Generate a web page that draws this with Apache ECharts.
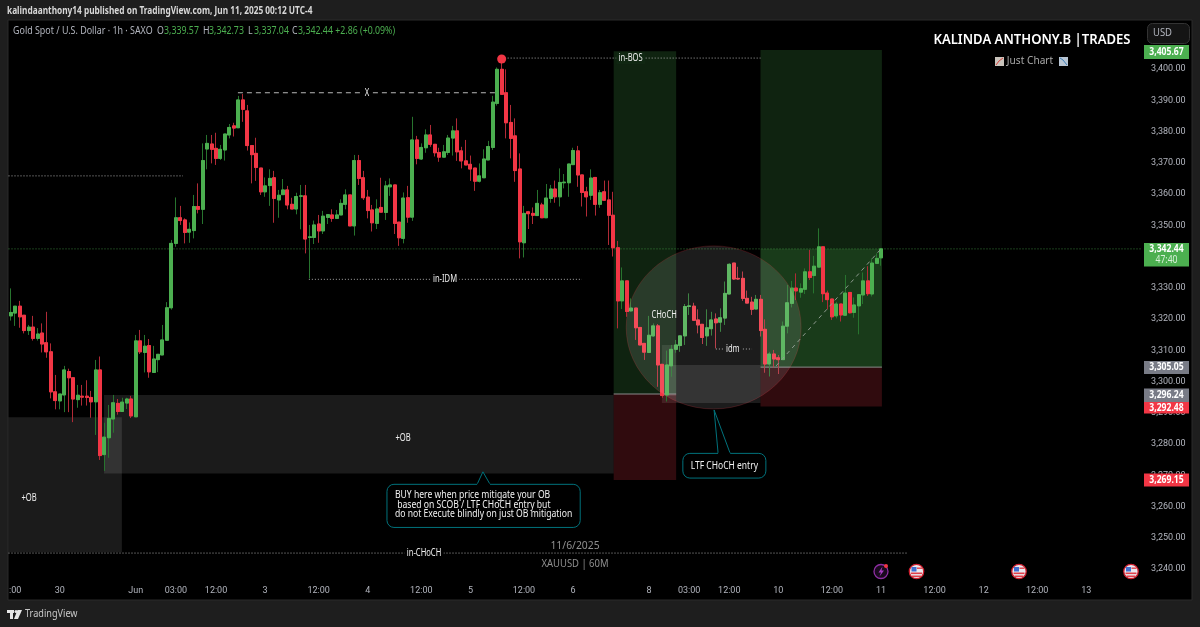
<!DOCTYPE html>
<html><head><meta charset="utf-8">
<style>html,body{margin:0;padding:0;background:#1e1e1e}#c{width:1200px;height:627px}</style>
<script src="https://cdn.jsdelivr.net/npm/echarts@6/dist/echarts.min.js"></script>
</head><body><div id="c"></div>
<script>
// [open, close, low, high], one row per hourly bar
const ohlc = [
[3321.0,3322.1,3319.5,3329.8],[3321.9,3324.1,3317.8,3324.1],[3324.1,3320.7,3317.2,3325.8],[3321.2,3316.3,3315.4,3321.2],[3316.3,3317.4,3314.9,3318.1],
[3317.4,3313.8,3313.1,3321.0],[3313.8,3315.2,3313.1,3317.1],[3315.5,3312.0,3309.3,3318.6],[3312.4,3309.5,3307.6,3322.3],[3309.5,3296.7,3294.6,3312.2],
[3296.7,3293.9,3291.1,3302.1],[3293.8,3296.0,3291.1,3296.0],[3295.7,3303.7,3290.2,3305.0],[3303.2,3301.2,3290.2,3304.1],[3301.2,3294.4,3287.0,3301.2],
[3294.2,3295.6,3291.6,3298.9],[3295.3,3295.0,3292.3,3298.9],[3295.3,3294.9,3292.3,3300.4],[3294.9,3293.5,3288.4,3297.0],[3293.5,3303.7,3282.9,3306.9],
[3303.7,3276.3,3274.9,3308.0],[3276.6,3282.2,3271.4,3286.8],[3282.0,3288.2,3275.6,3292.5],[3288.0,3293.2,3283.6,3295.7],[3293.0,3290.4,3289.4,3294.4],
[3290.4,3293.4,3290.4,3294.8],[3293.1,3294.4,3291.2,3294.8],[3294.4,3289.0,3288.3,3295.4],[3288.7,3313.0,3288.7,3314.9],[3313.0,3309.5,3308.8,3316.5],
[3309.3,3311.3,3302.9,3314.9],[3311.5,3303.1,3301.2,3313.6],[3302.9,3307.2,3302.9,3311.4],[3307.0,3308.7,3303.0,3308.7],[3308.5,3313.3,3308.5,3318.1],
[3313.2,3323.6,3313.2,3325.4],[3323.6,3344.2,3323.0,3345.3],[3344.2,3352.4,3343.1,3358.9],[3352.4,3351.5,3350.1,3356.2],[3351.7,3347.7,3344.2,3352.2],
[3347.8,3348.7,3344.4,3350.9],[3348.3,3356.0,3345.8,3359.7],[3356.0,3355.1,3353.8,3363.4],[3355.1,3370.7,3350.4,3376.2],[3374.4,3376.2,3367.9,3378.9],
[3376.0,3374.3,3369.8,3378.9],[3374.6,3371.4,3369.3,3379.6],[3371.4,3374.3,3370.9,3375.7],[3374.1,3379.2,3370.7,3379.2],[3378.9,3381.3,3377.8,3382.4],
[3381.8,3381.1,3378.4,3382.8],[3381.2,3390.1,3381.2,3391.4],[3390.1,3387.1,3383.1,3392.0],[3386.6,3375.5,3373.9,3388.5],[3375.5,3372.6,3363.4,3375.5],
[3373.0,3368.5,3364.2,3378.0],[3368.3,3360.7,3359.7,3368.3],[3360.7,3362.6,3359.1,3365.3],[3362.7,3365.0,3356.2,3367.9],[3365.2,3358.6,3350.8,3367.4],
[3358.1,3359.6,3352.4,3361.3],[3359.8,3361.3,3359.7,3364.8],[3361.3,3356.5,3355.1,3362.6],[3356.7,3355.2,3355.2,3358.8],[3355.2,3359.2,3353.5,3360.4],
[3359.3,3359.4,3348.7,3362.9],[3359.4,3345.6,3341.0,3362.9],[3346.1,3346.3,3333.0,3350.1],[3346.1,3350.1,3344.0,3351.5],[3350.4,3348.2,3344.4,3353.3],
[3348.2,3352.9,3347.2,3354.6],[3352.5,3353.4,3350.4,3353.4],[3353.3,3352.2,3351.1,3355.1],[3352.2,3353.3,3352.2,3354.9],[3353.3,3357.0,3353.3,3358.3],
[3356.7,3359.7,3355.1,3361.5],[3359.7,3349.8,3349.8,3359.7],[3349.8,3370.7,3346.7,3372.5],[3370.7,3365.0,3362.9,3372.5],[3365.2,3358.8,3358.1,3367.4],
[3359.0,3354.7,3352.2,3361.3],[3354.9,3350.8,3348.0,3356.5],[3350.6,3355.2,3348.8,3358.3],[3355.7,3354.2,3354.2,3365.2],[3354.1,3362.6,3351.7,3364.2],
[3362.3,3362.9,3359.4,3365.0],[3362.9,3350.6,3347.2,3362.9],[3351.0,3346.0,3343.4,3351.0],[3345.8,3358.7,3344.2,3360.5],[3358.8,3352.6,3350.8,3362.6],
[3352.6,3377.3,3351.4,3384.7],[3377.3,3371.4,3369.5,3378.6],[3371.2,3374.9,3370.9,3376.2],[3374.8,3378.9,3373.2,3380.7],[3378.9,3375.9,3375.1,3382.1],
[3375.9,3373.2,3372.0,3375.9],[3373.3,3371.8,3370.3,3374.8],[3371.8,3373.5,3371.8,3375.7],[3373.3,3377.9,3372.5,3378.9],[3377.9,3380.2,3372.3,3381.8],
[3380.2,3373.5,3370.6,3384.2],[3373.8,3370.6,3368.2,3375.1],[3370.6,3369.3,3369.3,3377.3],[3369.5,3368.0,3364.2,3372.3],[3368.3,3364.1,3361.0,3368.3],
[3364.1,3365.8,3363.7,3369.8],[3365.2,3371.2,3365.2,3374.3],[3370.9,3375.2,3370.9,3377.0],[3374.9,3389.4,3374.1,3391.4],[3389.0,3399.9,3388.3,3400.5],
[3399.9,3391.9,3391.7,3403.1],[3392.4,3382.8,3377.8,3399.9],[3382.9,3377.8,3371.4,3388.5],[3378.6,3367.5,3363.9,3384.2],[3368.0,3344.7,3339.4,3373.0],
[3344.4,3353.8,3339.7,3356.2],[3354.3,3353.7,3348.8,3354.6],[3353.8,3353.2,3350.4,3355.7],[3353.1,3357.0,3353.1,3361.3],[3356.5,3352.4,3352.4,3357.2],
[3352.4,3358.7,3352.4,3363.2],[3358.6,3361.6,3357.2,3362.9],[3361.6,3359.1,3357.2,3364.3],[3359.1,3363.7,3356.0,3368.2],[3363.6,3363.8,3361.8,3366.4],
[3363.6,3369.6,3359.1,3369.6],[3369.4,3373.9,3369.3,3374.8],[3373.8,3366.1,3362.3,3375.4],[3366.1,3360.5,3356.0,3366.1],[3360.7,3359.1,3352.8,3362.3],
[3359.6,3365.1,3358.1,3367.9],[3365.3,3356.7,3353.1,3365.3],[3356.7,3360.4,3355.6,3361.3],[3360.7,3358.0,3357.9,3364.3],[3358.1,3353.2,3343.7,3364.3],
[3353.2,3342.8,3340.0,3360.7],[3342.8,3325.8,3317.0,3345.0],[3325.8,3332.2,3323.2,3336.5],[3332.2,3322.4,3320.7,3332.2],[3322.6,3323.5,3322.4,3326.6],
[3323.5,3317.2,3313.3,3323.5],[3317.3,3311.7,3311.7,3317.3],[3312.2,3309.4,3306.9,3312.2],[3309.3,3314.8,3309.2,3321.0],[3314.6,3317.8,3314.3,3318.6],
[3317.8,3305.3,3298.3,3318.4],[3305.5,3295.5,3294.8,3305.5],[3295.7,3305.3,3293.6,3309.9],[3305.0,3310.3,3301.5,3311.7],[3310.3,3311.7,3309.2,3313.3],
[3311.5,3314.6,3309.5,3314.6],[3314.6,3324.0,3311.7,3324.8],[3324.0,3324.2,3321.3,3328.2],[3324.1,3319.6,3319.5,3325.2],[3319.7,3318.1,3315.4,3323.1],
[3318.3,3314.1,3312.0,3318.3],[3314.6,3317.2,3311.4,3323.1],[3316.9,3319.7,3314.7,3322.3],[3320.0,3318.8,3310.6,3321.8],[3319.0,3320.4,3315.9,3323.4],
[3320.3,3328.2,3318.1,3332.0],[3328.0,3337.5,3328.0,3337.8],[3337.9,3332.8,3332.5,3337.9],[3333.0,3332.8,3332.5,3336.7],[3333.0,3326.6,3325.8,3335.2],
[3326.6,3325.1,3325.1,3329.1],[3325.4,3323.1,3321.3,3327.1],[3323.2,3326.3,3323.2,3327.7],[3326.3,3316.3,3314.4,3327.7],[3316.7,3305.6,3302.8,3319.9],
[3305.6,3308.8,3301.6,3309.5],[3308.8,3307.2,3304.5,3310.1],[3307.6,3307.0,3302.4,3308.5],[3307.0,3317.7,3307.0,3319.2],[3317.7,3325.2,3315.4,3330.9],
[3325.0,3329.9,3323.7,3332.2],[3329.9,3329.0,3326.1,3334.6],[3328.6,3329.7,3326.8,3331.4],[3329.5,3335.1,3328.0,3336.2],[3335.1,3333.3,3332.5,3342.1],
[3333.9,3336.9,3328.2,3340.2],[3336.6,3343.1,3336.6,3349.0],[3343.1,3328.1,3325.4,3343.1],[3328.3,3326.2,3323.1,3329.1],[3326.4,3320.7,3319.7,3326.4],
[3321.0,3324.8,3320.2,3325.5],[3324.8,3321.3,3319.2,3324.8],[3321.2,3328.3,3321.1,3334.1],[3328.5,3322.0,3321.8,3328.5],[3322.1,3324.5,3320.4,3326.9],
[3324.2,3327.8,3315.1,3328.0],[3327.7,3332.2,3324.8,3334.9],[3332.2,3328.1,3327.4,3336.9],[3328.0,3337.9,3327.2,3339.4],[3337.8,3339.4,3337.8,3341.0],
[3339.57,3342.44,3337.04,3342.73]
];
const barCount = 254;
const tickBars   = [1,11,28,37,46,57,69,80,92,103,115,126,143,152,161,172,184,195,207,218,230,241];
const tickLabels = [':00','30','Jun','03:00','12:00','3','12:00','4','12:00','5','12:00','6','8','03:00','12:00','10','12:00','11','12:00','12','12:00','13'];
const priceMin = 3230, priceMax = 3416, priceStep = 10;
const lastClose = 3342.44;

// drawings, in [bar, price] chart coordinates
const greyZones  = [[-0.5,3288.6,24.9,3245.4],[20.9,3295.7,135.1,3270.6],[145.9,3305.3,168,3293.1],[145.9,3311.7,149.1,3295.4]];
const greenZones = [[135.1,3405.67,149.1,3296],[168,3406.1,195.2,3304.6]];
const activeZones= [[168,lastClose,195.2,3304.6]];
const redZones   = [[135.1,3296,149.1,3268.5],[168,3304.6,195.2,3292]];
const entryLines = [[135.1,3296,149.1,3296],[168,3304.6,195.2,3304.6]];
const dottedLines= [[-0.5,3365.8,38.6,3365.8],[110,3403.5,168,3403.5],[66.8,3332.7,128,3332.7],[-0.5,3245.1,201,3245.1],[158,3310.4,166.1,3310.4]];
const dashedLines= [[50.9,3392.4,108.9,3392.4],[171.5,3305,195,3342.44]];
const swingHigh  = [110,3403.2];
const focusCircle= [157.5,3317.3,19.6,26.1];
const zoneTexts  = [['+OB',87.9,3281.9,''],['+OB',4.1,3262.7,''],['X',79.8,3392.4,'#000'],['in-BOS',138.9,3403.5,'#102712'],
                    ['in-IDM',97.3,3332.7,'#000'],['in-CHoCH',92.6,3245.1,'#000'],['CHoCH',146.4,3321.3,''],['idm',161.8,3310.4,'#1c1c1c']];
const buyNote = 'BUY here when price mitigate your OB\n based on SCOB / LTF CHoCH entry but\ndo not Execute blindly on just OB mitigation';
const ltfNote = 'LTF CHoCH entry';
const buyCallout = [84.3,3267.1,127.6,3253.3];
const buyPointer = [[104.5,3267.1],[105.8,3271.1],[107.4,3267.1]];
const ltfCallout = [150.6,3277,169.2,3269.1];
const ltfPointer = [[158.5,3277],[157.6,3290.9],[161.2,3277]];

const headerText = 'kalindaanthony14 published on TradingView.com, Jun 11, 2025 00:12 UTC-4';
const symbolText = 'Gold Spot / U.S. Dollar · 1h · SAXO';
const quoteKeys = ['O','H','L','C'];
const quoteVals = ['3,339.57','3,342.73','3,337.04','3,342.44 +2.86 (+0.09%)'];
const tagLabels = ['3,405.67','3,342.44','47:40','3,305.05','3,296.24','3,292.48','3,269.15'];

const UP='#4caf50', DOWN='#f23645', UPW='#27742e', DOWNW='#b02a36', GREY='#b2b5be', TEAL='#00727c';
const FONT='"Noto Sans",sans-serif';

const categories = Array.from({length:barCount},(_,i)=>{const k=tickBars.indexOf(i);return k<0?'':tickLabels[k];});
const bodies = ohlc.map(([o,c])=>[o,c,Math.min(o,c),Math.max(o,c)]);

function rectOf(api,z,style){
  const a=api.coord([z[0],z[1]]), b=api.coord([z[2],z[3]]);
  return {type:'rect',shape:{x:a[0],y:a[1],width:b[0]-a[0],height:b[1]-a[1]},style};
}
function lineOf(api,l,style){
  const a=api.coord([l[0],l[1]]), b=api.coord([l[2],l[3]]);
  return {type:'line',shape:{x1:a[0],y1:a[1],x2:b[0],y2:b[1]},style};
}
function underlay(params,api){
  const ch=[];
  greyZones.forEach(z=>ch.push(rectOf(api,z,{fill:'rgba(255,255,255,0.105)'})));
  greenZones.forEach(z=>ch.push(rectOf(api,z,{fill:'rgba(76,175,80,0.2)'})));
  activeZones.forEach(z=>ch.push(rectOf(api,z,{fill:'rgba(76,175,80,0.17)'})));
  redZones.forEach(z=>ch.push(rectOf(api,z,{fill:'rgba(242,54,69,0.2)'})));
  entryLines.forEach(l=>ch.push(lineOf(api,l,{stroke:'#8a8a8a',lineWidth:1})));
  ch.push(lineOf(api,[-0.5,lastClose,barCount-0.5,lastClose],{stroke:'rgba(76,175,80,0.7)',lineWidth:1,lineDash:[1,2]}));
  dottedLines.forEach(l=>ch.push(lineOf(api,l,{stroke:'#a8a8a8',lineWidth:1,lineDash:[1,2]})));
  return {type:'group',children:ch};
}
function callout(api,box,ptr){
  const a=api.coord([box[0],box[1]]), b=api.coord([box[2],box[3]]);
  const pts=ptr.map(p=>api.coord(p));
  return [
    {type:'rect',shape:{x:a[0],y:a[1],width:b[0]-a[0],height:b[1]-a[1],r:7},style:{fill:'#000',stroke:TEAL,lineWidth:1}},
    {type:'polyline',shape:{points:pts},style:{fill:'#000',stroke:TEAL,lineWidth:1}},
    {type:'line',shape:{x1:pts[0][0],y1:pts[0][1],x2:pts[2][0],y2:pts[2][1]},style:{stroke:'#000',lineWidth:1.5}}
  ];
}
function overlay(params,api){
  const ch=[];
  const c=api.coord([focusCircle[0],focusCircle[1]]);
  const e=api.coord([focusCircle[0]+focusCircle[2],focusCircle[1]+focusCircle[3]]);
  ch.push({type:'ellipse',shape:{cx:c[0],cy:c[1],rx:e[0]-c[0],ry:c[1]-e[1]},style:{fill:'rgba(255,255,255,0.11)',stroke:'rgba(242,54,69,0.2)',lineWidth:1}});
  dashedLines.forEach((l,i)=>ch.push(lineOf(api,l,{stroke:i?'#8d9a8e':'#b8b8b8',lineWidth:1,lineDash:i?[4,4]:[5,4]})));
  const s=api.coord(swingHigh);
  ch.push({type:'circle',shape:{cx:s[0],cy:s[1],r:4.5},style:{fill:DOWN}});
  zoneTexts.forEach(t=>{
    const p=api.coord([t[1],t[2]]);
    ch.push({type:'text',x:p[0],y:p[1],scaleX:0.76,style:{text:t[0],fill:'#efefef',font:'10px '+FONT,align:'center',verticalAlign:'middle',
      backgroundColor:t[3]||'transparent',padding:[1,3]}});
  });
  ch.push(...callout(api,buyCallout,buyPointer),...callout(api,ltfCallout,ltfPointer));
  const bp=api.coord([buyCallout[0],buyCallout[1]]), lp=api.coord([(ltfCallout[0]+ltfCallout[2])/2,(ltfCallout[1]+ltfCallout[3])/2]);
  ch.push({type:'text',x:bp[0]+8,y:bp[1]+6.5,scaleX:0.86,style:{text:buyNote,fill:'#f0f0f0',font:'10px '+FONT,lineHeight:9.3,align:'left',verticalAlign:'top'}});
  ch.push({type:'text',x:lp[0],y:lp[1],scaleX:0.81,style:{text:ltfNote,fill:'#f0f0f0',font:'10.5px '+FONT,align:'center',verticalAlign:'middle'}});
  return {type:'group',children:ch};
}

// page furniture
function txt(x,y,text,fill,font,align,sx){return {type:'text',z:120,x,y,scaleX:sx||1,style:{text,fill,font:font||('10.5px '+FONT),align:align||'left',verticalAlign:'middle'}};}
function box(x,y,w,h,fill,r,stroke,z){return {type:'rect',z:z==null?110:z,shape:{x,y,width:w,height:h,r:r||0},style:{fill,stroke:stroke||null,lineWidth:1}};}
const TAGF='bold 10.5px '+FONT, TS=0.82;
const graphics=[
  box(8,20,1184,580,'#000',0,'#2b2b2b',-10),
  txt(7,11,headerText,'#d8d8d8','bold 10.5px '+FONT,'left',0.79),
  txt(13,31,symbolText,GREY,'11px '+FONT,'left',0.81),
];
[[157,164],[203,209],[248,254],[292,298]].forEach((p,i)=>{
  graphics.push(txt(p[0],31,quoteKeys[i],GREY,'11px '+FONT,'left',0.8));
  graphics.push(txt(p[1],31,quoteVals[i],UP,'11px '+FONT,'left',0.8));
});
graphics.push(
  txt(1032,40,'KALINDA ANTHONY.B |TRADES','#ffffff','600 13.5px '+FONT,'center',0.97),
  txt(1030,61,'Just Chart','#a8a8a8','11px '+FONT,'center',0.92),
  box(995,57,9,9,'#c9c4bc',0,null,120),
  {type:'polyline',z:121,shape:{points:[[996,65],[999,61],[1003,58]]},style:{stroke:'#d8433f',fill:null,lineWidth:1}},
  box(1059,57,9,9,'#b9c6d4',0,null,120),
  {type:'polyline',z:121,shape:{points:[[1060,58],[1063,60],[1067,65]]},style:{stroke:'#3f7fb8',fill:null,lineWidth:1}},
  txt(575,546,'11/6/2025','#8f8f8f','11px '+FONT,'center',0.94),
  txt(575,564,'XAUUSD | 60M','#8f8f8f','11px '+FONT,'center',0.86),
  box(1147.5,23.5,42,20,'#141414',5,'#333'),
  txt(1153,33.5,'USD',GREY,'10.5px '+FONT,'left',0.9),
  box(1144,45,45,14,UP), txt(1166.5,52,tagLabels[0],'#fff',TAGF,'center',TS),
  box(1144,243,45,13,UP), box(1144,255,45,11.5,UP), txt(1166.5,249.5,tagLabels[1],'#fff',TAGF,'center',TS), txt(1166.5,260,tagLabels[2],'#d8f0da','10.5px '+FONT,'center',TS),
  box(1144,361,45,13,'#787b86'), txt(1166.5,367.5,tagLabels[3],'#fff',TAGF,'center',TS),
  box(1144,388.5,45,13.5,'#787b86'), txt(1166.5,395,tagLabels[4],'#fff',TAGF,'center',TS),
  box(1144,402,45,11.5,DOWN), txt(1166.5,408,tagLabels[5],'#fff',TAGF,'center',TS),
  box(1144,473.5,45,13,DOWN), txt(1166.5,480,tagLabels[6],'#fff',TAGF,'center',TS),
  // TradingView mark
  box(7,610,7,3,'#e8e8e8',0,null,120), box(10,610,3,9,'#e8e8e8',0,null,120),
  {type:'circle',z:120,shape:{cx:16,cy:611.5,r:1.5},style:{fill:'#e8e8e8'}},
  {type:'polygon',z:120,shape:{points:[[17.5,610],[22,610],[18,619],[14,619]]},style:{fill:'#e8e8e8'}},
  txt(25,614,'TradingView','#c8c8c8','11px '+FONT,'left',0.83),
  // event icons
  {type:'circle',z:120,shape:{cx:881,cy:571.5,r:7},style:{fill:'#1a0a1e',stroke:'#8e2ea3',lineWidth:1.3}},
  {type:'polygon',z:121,shape:{points:[[882.5,566.5],[878.5,572.5],[881,572.5],[879.5,576.5],[884,570.5],[881.5,570.5]]},style:{fill:'#a53cc0'}},
  {type:'circle',z:122,shape:{cx:886,cy:566,r:2},style:{fill:DOWN}}
);
[916.5,1019,1131].forEach(x=>{
  graphics.push(
    {type:'circle',z:120,shape:{cx:x,cy:571.5,r:7.2},style:{fill:'#e9e9ef',stroke:'#d01f2f',lineWidth:1.3}},
    box(x-5,567,5,4.5,'#3f6fd0',0,null,121),
    box(x-5.5,572.5,11,1.6,'#e0404a',0,null,121),
    box(x-4.5,575.5,9,1.6,'#e0404a',0,null,121),
    box(x+0.5,567.5,5,1.4,'#e0404a',0,null,121)
  );
});

const option={
  animation:false,
  backgroundColor:'#1e1e1e',
  graphic:graphics,
  grid:{left:8.5,width:1133.6,top:19,height:581.25,containLabel:false},
  xAxis:[
    {type:'category',data:categories,boundaryGap:true,axisLine:{show:false},axisTick:{show:false},splitLine:{show:false},
     axisLabel:{interval:0,hideOverlap:false,color:GREY,fontFamily:'Roboto',fontSize:9,margin:-14,showMinLabel:true,showMaxLabel:true}},
    {type:'value',min:-0.5,max:barCount-0.5,show:false,position:'top',splitLine:{show:false}}
  ],
  yAxis:{type:'value',position:'right',min:priceMin,max:priceMax,interval:priceStep,scale:true,
    axisLine:{show:false},axisTick:{show:false},splitLine:{show:false},
    axisLabel:{color:GREY,fontFamily:'Roboto',fontSize:9,margin:9,
      formatter:v=>(v===priceMin||v===priceMax||v===3410)?'':v.toLocaleString('en-US',{minimumFractionDigits:2,maximumFractionDigits:2})}},
  series:[
    {type:'custom',name:'zones',xAxisIndex:1,yAxisIndex:0,z:1,silent:true,renderItem:underlay,data:[[0,3300]]},
    {type:'candlestick',name:'XAUUSD wicks',xAxisIndex:0,yAxisIndex:0,z:2,silent:true,barWidth:3.5,data:ohlc,
     itemStyle:{color:UPW,color0:DOWNW,borderColor:UPW,borderColor0:DOWNW,borderWidth:1}},
    {type:'candlestick',name:'XAUUSD bodies',xAxisIndex:0,yAxisIndex:0,z:3,silent:true,barWidth:3.5,data:bodies,
     itemStyle:{color:UP,color0:DOWN,borderColor:UP,borderColor0:DOWN,borderWidth:1}},
    {type:'custom',name:'notes',xAxisIndex:1,yAxisIndex:0,z:6,silent:true,renderItem:overlay,data:[[0,3300]]}
  ]
};
const chart=echarts.init(document.getElementById('c'),null,{renderer:'canvas'});
chart.setOption(option);
</script></body></html>
